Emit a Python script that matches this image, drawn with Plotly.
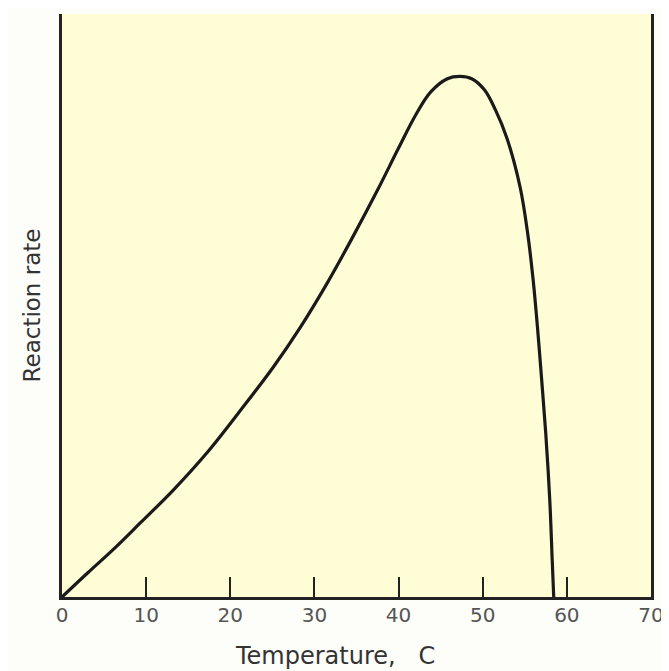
import plotly.graph_objects as go

# Temperature (C) and reaction rate (relative units, axis has no scale)
temperature = [0, 3.1, 6.2, 9.3, 13.2, 17.2, 21.2, 25.1, 28.3, 31.5, 34.5, 37.5,
               40.0, 42.0, 43.8, 45.8, 47.3, 48.7, 50.2, 51.5, 52.9, 54.46,
               55.35, 56.0, 56.54, 57.01, 57.49, 57.97, 58.26, 58.44]
reaction_rate = [0, 4.2, 8.3, 12.7, 18.3, 24.7, 32.0, 39.4, 46.2, 53.8, 61.6, 69.8,
                 77.0, 82.6, 86.6, 88.9, 89.3, 88.9, 87.0, 83.6, 78.6, 70.2,
                 62.3, 54.3, 45.7, 37.2, 28.1, 16.6, 6.3, 0]
x_ticks = [0, 10, 20, 30, 40, 50, 60, 70]
x_tick_labels = ["0", "10", "20", "30", "40", "50", "60", "70"]
x_title = "Temperature,\u00a0\u00a0\u00a0C"
y_title = "Reaction rate"

fig = go.Figure()
fig.add_trace(go.Scatter(
    x=temperature, y=reaction_rate, mode="lines",
    line=dict(color="#1a1a1a", width=3.2, shape="spline", smoothing=1.0),
    hoverinfo="skip", showlegend=False,
))

fig.update_layout(
    width=661, height=663,
    margin=dict(l=54, r=18, t=6, b=74),
    paper_bgcolor="#fdfdf9",
    plot_bgcolor="#fefdd6",
    font=dict(family="DejaVu Sans", color="#333333"),
    xaxis=dict(
        range=[0, 70], tickvals=x_ticks, ticktext=x_tick_labels,
        ticks="inside", ticklen=20, tickwidth=2, tickcolor="#222222",
        showline=True, linewidth=3, linecolor="#222222", mirror=False,
        showgrid=False, zeroline=False,
        tickfont=dict(size=20, color="#555555"), ticklabelstandoff=-2,
        fixedrange=True,
    ),
    yaxis=dict(
        range=[0, 100], showticklabels=False, ticks="",
        showline=True, linewidth=2.5, linecolor="#222222", mirror=True,
        showgrid=False, zeroline=False,
        title=dict(text=y_title, font=dict(size=23, color="#333333"), standoff=13),
        fixedrange=True,
    ),
    annotations=[dict(
        text=x_title, xref="paper", yref="paper", x=0.4635, y=0,
        xanchor="center", yanchor="middle", yshift=-59, showarrow=False,
        font=dict(size=24, color="#333333"),
    )],
)

fig.write_html("out.html")
